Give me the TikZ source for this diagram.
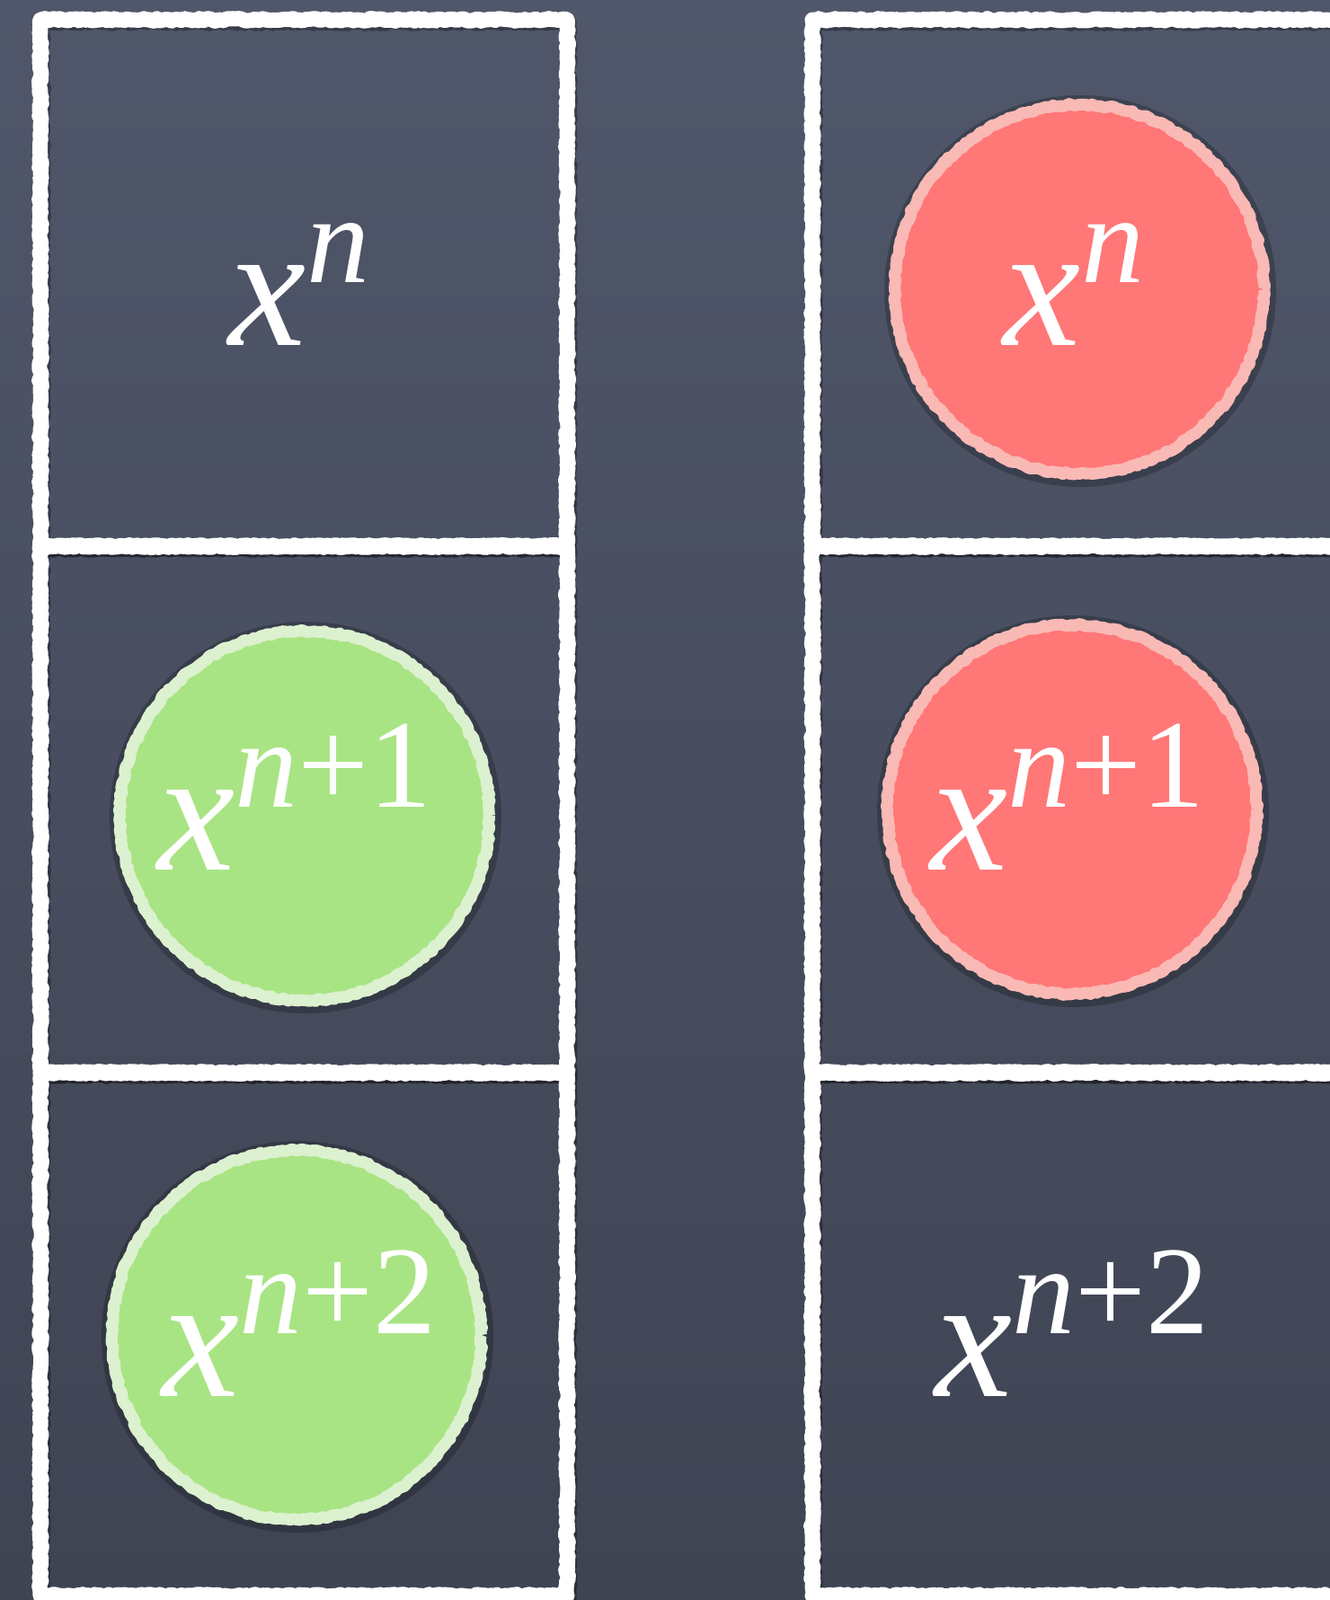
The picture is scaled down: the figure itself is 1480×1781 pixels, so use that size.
\documentclass[tikz,border=0pt]{standalone}
\usepackage{fontspec}
\setmainfont{Liberation Serif}
\usetikzlibrary{decorations.pathmorphing}
\definecolor{boardtop}{HTML}{50576A}
\definecolor{boardbot}{HTML}{3F4453}
\definecolor{redfill}{HTML}{FF7777}
\definecolor{redring}{HTML}{F9B9B5}
\definecolor{greenfill}{HTML}{A9E484}
\definecolor{greenring}{HTML}{DCF1CF}
\newcommand{\powtxt}[2]{\textit{x}\raisebox{70pt}{\fontsize{140}{142}\selectfont\textit{#1}#2}}
\begin{document}
\begin{tikzpicture}[x=1pt,y=-1pt,
  chalk/.style={decorate, decoration={random steps, segment length=3pt, amplitude=1.4pt}},
  cell/.style={draw=white, line width=17pt, line join=round, minimum width=586pt, minimum height=586pt,
    inner sep=0pt, chalk},
  cellshadow/.style={cell, draw=black, draw opacity=0.3},
  disc/.style={circle, minimum size=411pt, inner sep=0pt, line width=13pt, line join=round,
    decorate, decoration={random steps, segment length=4pt, amplitude=1.4pt}},
  discshadow/.style={circle, minimum size=436pt, inner sep=0pt, fill=black, fill opacity=0.22},
  redc/.style={disc, fill=redfill, draw=redring},
  greenc/.style={disc, fill=greenfill, draw=greenring},
  lbl/.style={text=white, inner sep=0pt, anchor=base, font=\fontsize{194}{200}\selectfont}]
\useasboundingbox (0,0) rectangle (1480,1781);
\clip (0,0) rectangle (1480,1781);
\fill[top color=boardtop, bottom color=boardbot] (0,0) rectangle (1480,1781);
% cell shadows
\node[cellshadow] (L1s) at (340,318) {};
\node[cellshadow] (L2s) at (340,904) {};
\node[cellshadow, minimum height=582pt] (L3s) at (340,1488) {};
\node[cellshadow] (R1s) at (1199,318) {};
\node[cellshadow] (R2s) at (1199,904) {};
\node[cellshadow, minimum height=582pt] (R3s) at (1199,1488) {};
% cells
\node[cell] (L1) at (338,315) {};
\node[cell] (L2) at (338,901) {};
\node[cell, minimum height=582pt] (L3) at (338,1485) {};
\node[cell] (R1) at (1197,315) {};
\node[cell] (R2) at (1197,901) {};
\node[cell, minimum height=582pt] (R3) at (1197,1485) {};
% disc shadows
\node[discshadow] (R1d) at (1202,324) {};
\node[discshadow] (R2d) at (1194,903) {};
\node[discshadow] (L2d) at (340,910) {};
\node[discshadow] (L3d) at (331,1488) {};
% discs
\node[redc] (R1c) at (1201,322) {};
\node[redc] (R2c) at (1193,901) {};
\node[greenc] (L2c) at (339,908) {};
\node[greenc] (L3c) at (330,1486) {};
% labels
\node[lbl] (L1t) at (333,384) {\powtxt{n}{}};
\node[lbl] (R1t) at (1195,384) {\powtxt{n}{}};
\node[lbl] (L2t) at (328,968) {\powtxt{n}{+1}};
\node[lbl] (R2t) at (1188,968) {\powtxt{n}{+1}};
\node[lbl] (L3t) at (333,1554) {\powtxt{n}{+2}};
\node[lbl] (R3t) at (1193,1554) {\powtxt{n}{+2}};
\end{tikzpicture}
\end{document}
